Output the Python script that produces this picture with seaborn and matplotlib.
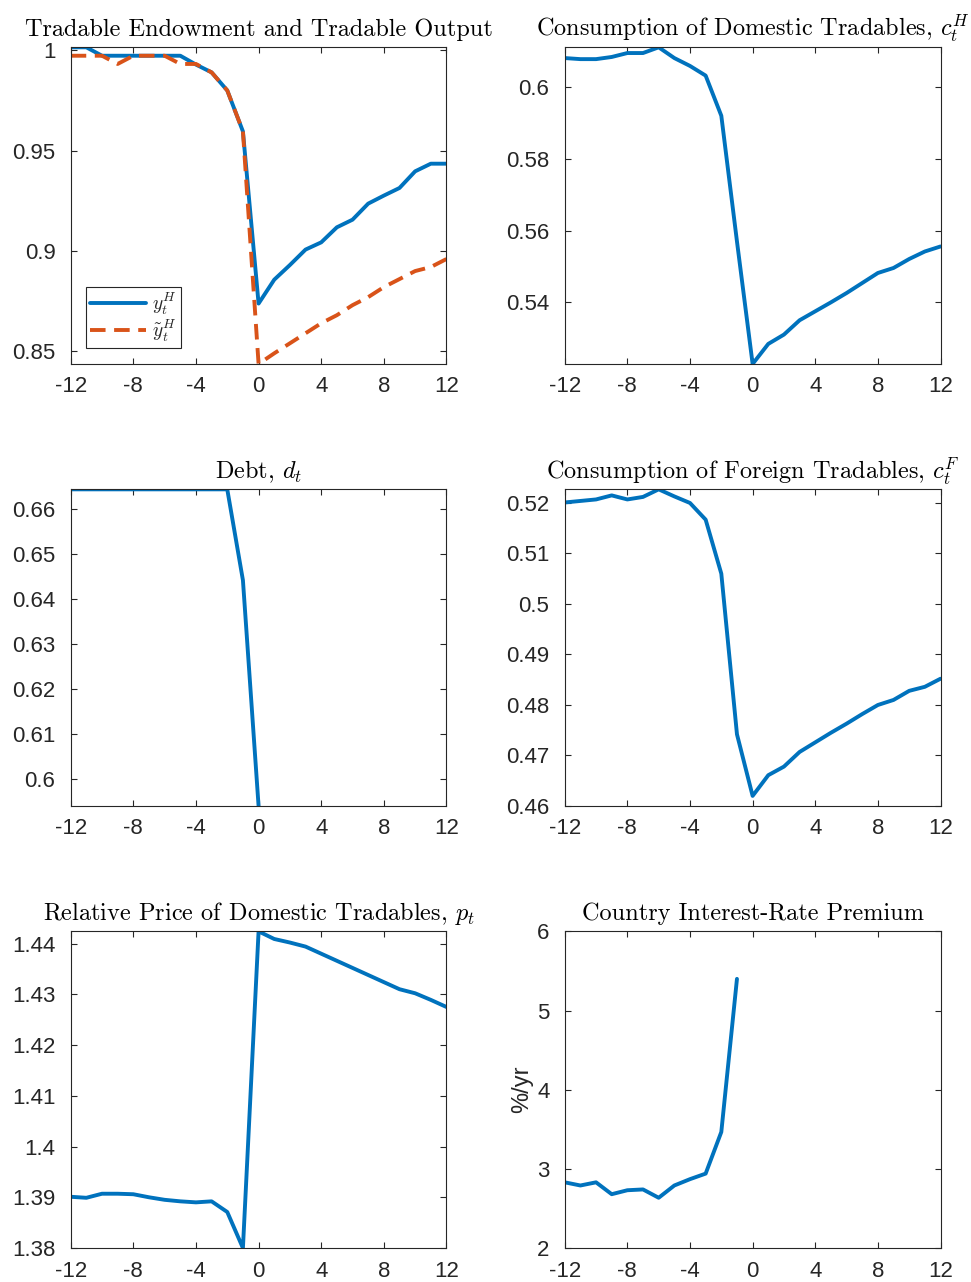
import numpy as np
import seaborn as sns
import matplotlib
import matplotlib.pyplot as plt
from matplotlib.ticker import FuncFormatter

# quarters around the crisis
t = np.arange(-12, 13)

# tradable endowment and output
y_H = [1.0015, 1.0015, 0.9973, 0.9973, 0.9973, 0.9973, 0.9973, 0.9973, 0.9929, 0.989, 0.980, 0.9596,
       0.8738, 0.8857, 0.893, 0.9007, 0.9043, 0.9118, 0.9156, 0.9236, 0.9276, 0.9314, 0.9397, 0.9435, 0.9435]
y_tilde = [0.9973, 0.9973, 0.9973, 0.9932, 0.9973, 0.9973, 0.9973, 0.9932, 0.9932, 0.989, 0.980, 0.9596,
           0.8437, 0.849, 0.854, 0.859, 0.864, 0.868, 0.873, 0.877, 0.882, 0.886, 0.890, 0.892, 0.896]

# consumption of domestic tradables
c_H = [0.6082, 0.6079, 0.6079, 0.6085, 0.6096, 0.6096, 0.6112, 0.6082, 0.6060, 0.6033, 0.5921, 0.557,
       0.5228, 0.5284, 0.531, 0.535, 0.5375, 0.540, 0.5426, 0.5454, 0.5482, 0.5496, 0.5521, 0.5542, 0.5556]

# debt (path ends at the crisis)
debt = [0.6644, 0.6644, 0.6644, 0.6644, 0.6644, 0.6644, 0.6644, 0.6644, 0.6644, 0.6644, 0.6644, 0.6442,
        0.594] + [np.nan] * 12

# consumption of foreign tradables
c_F = [0.5201, 0.5204, 0.5207, 0.5215, 0.5207, 0.5212, 0.5227, 0.5213, 0.5200, 0.5167, 0.5060, 0.4742,
       0.4620, 0.4661, 0.4678, 0.4707, 0.4726, 0.4745, 0.4763, 0.4782, 0.4800, 0.4810, 0.4828, 0.4836, 0.4852]

# relative price of domestic tradables
price = [1.3901, 1.3899, 1.3907, 1.3907, 1.3906, 1.3900, 1.3895, 1.3892, 1.3890, 1.3892, 1.3871, 1.3800,
         1.4424, 1.4409, 1.4402, 1.4394, 1.4380, 1.4366, 1.4352, 1.4338, 1.4324, 1.4310, 1.4302, 1.4289, 1.4275]

# country interest-rate premium, %/yr
premium = [2.83, 2.79, 2.83, 2.68, 2.73, 2.74, 2.635, 2.79, 2.87, 2.94, 3.466, 5.40] + [np.nan] * 13

blue = '#0072BD'
orange = '#D95319'
edge = '#262626'
lw = 2.8

sns.set_theme(style='ticks')
plt.rcParams['font.family'] = ['Liberation Sans', 'DejaVu Sans']
plt.rcParams['mathtext.fontset'] = 'cm'
plt.rcParams['axes.unicode_minus'] = False

fig = plt.figure(figsize=(9.71, 12.82), dpi=100)

lefts = [0.0728, 0.5816]
bottoms = [0.7161, 0.3713, 0.0265]
w, h = 0.3870, 0.2470


def style_axes(ax, title, yticks, ylim):
	ax.set_xlim(-12, 12)
	ax.set_ylim(*ylim)
	ax.set_xticks([-12, -8, -4, 0, 4, 8, 12])
	ax.set_yticks(yticks)
	ax.yaxis.set_major_formatter(FuncFormatter(lambda v, p: f'{v:g}'))
	ax.tick_params(direction='in', length=4, width=0.8, colors=edge, labelsize=16,
				   top=True, right=True)
	ax.tick_params(axis='x', pad=9)
	ax.tick_params(axis='y', pad=11)
	for s in ax.spines.values():
		s.set_visible(True)
		s.set_color(edge)
		s.set_linewidth(0.8)
	ax.set_xlabel('')
	ax.set_ylabel('')
	ax.set_title(title, fontsize=17.5, family='cmr10', pad=8, color='black')


def lims(*series):
	vals = np.concatenate([np.asarray(s, dtype=float) for s in series])
	return np.nanmin(vals), np.nanmax(vals)


# panel 1
ax = fig.add_axes([lefts[0], bottoms[0], w, h])
sns.lineplot(x=t, y=y_H, ax=ax, color=blue, lw=lw, label=r'$y_t^H$')
sns.lineplot(x=t, y=y_tilde, ax=ax, color=orange, lw=lw, label=r'$\tilde{y}_t^H$')
ax.lines[1].set_linestyle((0, (4.0, 2.2)))
style_axes(ax, 'Tradable Endowment and Tradable Output', [0.85, 0.9, 0.95, 1.0], lims(y_H, y_tilde))
leg = ax.legend(loc='lower left', bbox_to_anchor=(0.041, 0.05), borderaxespad=0, fancybox=False,
				edgecolor=edge, fontsize=14, handlelength=2.9, framealpha=1, labelspacing=0.05,
				borderpad=0.2, handletextpad=0.3)
leg.get_frame().set_linewidth(0.8)

# panel 2
ax = fig.add_axes([lefts[1], bottoms[0], w, h])
sns.lineplot(x=t, y=c_H, ax=ax, color=blue, lw=lw)
style_axes(ax, r'Consumption of Domestic Tradables, $c_t^H$', [0.54, 0.56, 0.58, 0.6], lims(c_H))

# panel 3
ax = fig.add_axes([lefts[0], bottoms[1], w, h])
sns.lineplot(x=t, y=debt, ax=ax, color=blue, lw=lw)
style_axes(ax, r'Debt, $d_t$', [0.6, 0.61, 0.62, 0.63, 0.64, 0.65, 0.66], lims(debt))

# panel 4
ax = fig.add_axes([lefts[1], bottoms[1], w, h])
sns.lineplot(x=t, y=c_F, ax=ax, color=blue, lw=lw)
style_axes(ax, r'Consumption of Foreign Tradables, $c_t^F$',
		   [0.46, 0.47, 0.48, 0.49, 0.5, 0.51, 0.52], lims(c_F))

# panel 5
ax = fig.add_axes([lefts[0], bottoms[2], w, h])
sns.lineplot(x=t, y=price, ax=ax, color=blue, lw=lw)
style_axes(ax, r'Relative Price of Domestic Tradables, $p_t$',
		   [1.38, 1.39, 1.4, 1.41, 1.42, 1.43, 1.44], lims(price))

# panel 6
ax = fig.add_axes([lefts[1], bottoms[2], w, h])
sns.lineplot(x=t, y=premium, ax=ax, color=blue, lw=lw)
style_axes(ax, 'Country Interest-Rate Premium', [2, 3, 4, 5, 6], (2, 6))
ax.set_ylabel('%/yr', fontsize=17, color=edge, labelpad=3)

fig.savefig('out.png', dpi=100)
